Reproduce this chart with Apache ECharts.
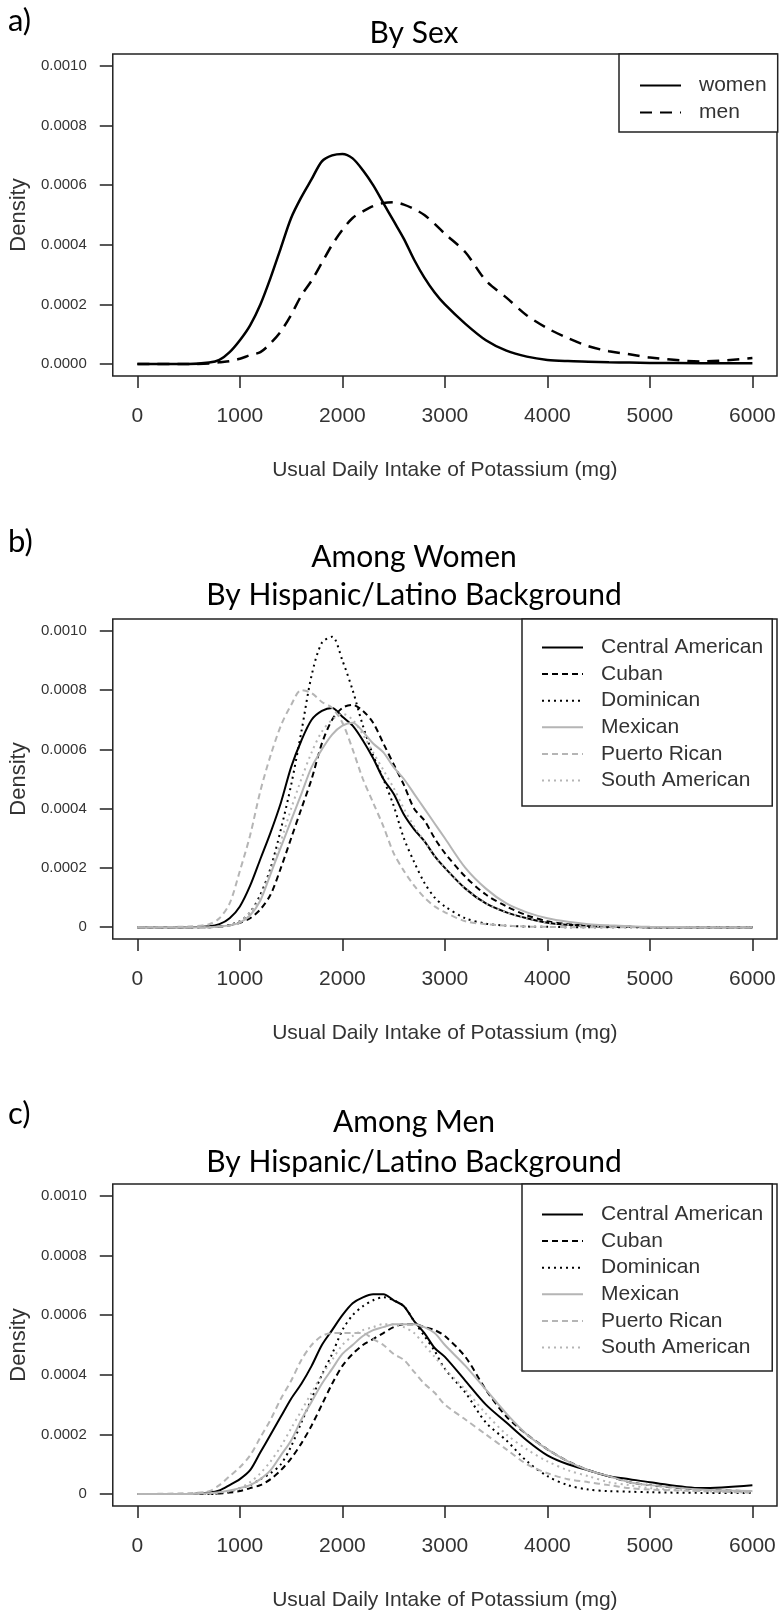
<!DOCTYPE html>
<html>
<head>
<meta charset="utf-8">
<script src="https://cdn.jsdelivr.net/npm/echarts@6/dist/echarts.min.js"></script>
<style>
html,body{margin:0;padding:0;background:#fff;}
#chart{width:780px;height:1614px;}
</style>
</head>
<body>
<div id="chart"></div>
<script>
// ---------- data ----------
const X_TICKS = [0, 1000, 2000, 3000, 4000, 5000, 6000];
const X_LABELS = ['0', '1000', '2000', '3000', '4000', '5000', '6000'];
const Y_TICKS = [0, 0.0002, 0.0004, 0.0006, 0.0008, 0.0010];
const Y_LABELS_A = ['0.0000', '0.0002', '0.0004', '0.0006', '0.0008', '0.0010'];
const Y_LABELS_BC = ['0', '0.0002', '0.0004', '0.0006', '0.0008', '0.0010'];

// intake grid (mg) shared by every curve
const INTAKE = [0, 500, 700, 800, 900, 1000, 1100, 1200, 1300, 1400, 1500, 1600, 1700, 1800, 1900, 2000,
  2100, 2200, 2300, 2400, 2500, 2600, 2700, 2800, 2900, 3000, 3200, 3400, 3600, 3800, 4000,
  4200, 4400, 4600, 4800, 5000, 5500, 6000];

// a) By sex
const WOMEN = [0, 0, 0.000005, 0.000014, 0.00004, 0.00008, 0.00013, 0.0002, 0.00029, 0.00039, 0.00049, 0.00056,
  0.00062, 0.00068, 0.0007, 0.000705, 0.00069, 0.00065, 0.0006, 0.00054, 0.00048, 0.00042, 0.00035, 0.00029,
  0.00024, 0.0002, 0.000135, 0.00008, 0.000045, 0.000025, 0.000014, 0.00001, 0.000008, 0.000006, 0.000005,
  0.000004, 0.000003, 0.000003];
const MEN = [0, 0, 0.000002, 0.000006, 0.00001, 0.000018, 0.00003, 0.00004, 0.00007, 0.00011, 0.000165, 0.00023,
  0.00028, 0.00034, 0.0004, 0.00045, 0.00049, 0.000512, 0.00053, 0.00054, 0.000543, 0.000535, 0.00052, 0.0005,
  0.00047, 0.000437, 0.000375, 0.00028, 0.000223, 0.000163, 0.00012, 0.000087, 0.00006, 0.000043, 0.000033,
  0.000022, 0.000009, 0.00002];

// b) Among women by background
const W_CENTRAL = [0, 0, 0.000003, 0.00001, 0.00003, 0.00007, 0.00014, 0.00023, 0.00032, 0.00042, 0.00054, 0.00063,
  0.0007, 0.00073, 0.00074, 0.00071, 0.00068, 0.00063, 0.00057, 0.0005, 0.00045, 0.00038, 0.00033, 0.00029,
  0.00024, 0.0002, 0.00013, 0.00008, 0.00005, 0.00003, 0.000015, 0.000008, 0.000004, 0.000002, 0.000001, 0, 0, 0];
const W_CUBAN = [0, 0, 0, 0.000002, 0.000006, 0.000015, 0.00003, 0.00006, 0.00011, 0.0002, 0.0003, 0.0004,
  0.0005, 0.00062, 0.0007, 0.00074, 0.00075, 0.00073, 0.00069, 0.00062, 0.00055, 0.00048, 0.0004, 0.00036,
  0.0003, 0.00025, 0.00017, 0.00011, 0.00007, 0.00004, 0.00002, 0.00001, 0.000005, 0.000002, 0.000001, 0, 0, 0];
const W_DOMINICAN = [0, 0, 0, 0.000002, 0.000008, 0.00002, 0.00005, 0.00011, 0.0002, 0.00033, 0.00048, 0.00066,
  0.00085, 0.00096, 0.00098, 0.0009, 0.0008, 0.00068, 0.00058, 0.0005, 0.00041, 0.0003, 0.00022, 0.00015,
  0.0001, 0.00007, 0.00003, 0.000012, 0.000005, 0.000002, 0.000001, 0, 0, 0, 0, 0, 0, 0];
const W_MEXICAN = [0, 0, 0, 0.000002, 0.000006, 0.000015, 0.00004, 0.00009, 0.00018, 0.00027, 0.00036, 0.00045,
  0.00054, 0.0006, 0.00065, 0.00068, 0.00069, 0.00066, 0.00062, 0.00059, 0.00054, 0.0005, 0.00045, 0.0004,
  0.00035, 0.0003, 0.0002, 0.00013, 0.00008, 0.00005, 0.00003, 0.000018, 0.00001, 0.000006, 0.000003,
  0.000001, 0, 0];
const W_PUERTO = [0, 0.000002, 0.00001, 0.00003, 0.00008, 0.00019, 0.00031, 0.00046, 0.00058, 0.00068, 0.00075,
  0.0008, 0.00079, 0.00076, 0.00074, 0.00069, 0.0006, 0.0005, 0.00042, 0.00034, 0.00025, 0.00019, 0.00014,
  0.0001, 0.00007, 0.00005, 0.00002, 0.00001, 0.000005, 0.000002, 0.000001, 0, 0, 0, 0, 0, 0, 0];
const W_SOUTH = [0, 0, 0, 0.000002, 0.000006, 0.00002, 0.00005, 0.0001, 0.00019, 0.00029, 0.0004, 0.0005,
  0.00059, 0.00066, 0.0007, 0.00072, 0.0007, 0.00065, 0.00059, 0.00053, 0.00047, 0.0004, 0.00034, 0.00029,
  0.00024, 0.0002, 0.00013, 0.00008, 0.00005, 0.00003, 0.000015, 0.000008, 0.000004, 0.000002, 0.000001, 0, 0, 0];

// c) Among men by background
const M_CENTRAL = [0, 0, 0.000005, 0.000012, 0.00003, 0.00005, 0.00008, 0.00014, 0.0002, 0.00026, 0.00032, 0.00037,
  0.00043, 0.0005, 0.00055, 0.0006, 0.00064, 0.00066, 0.00067, 0.00067, 0.00065, 0.00063, 0.00058, 0.00054,
  0.00049, 0.00046, 0.00038, 0.0003, 0.00024, 0.00018, 0.00013, 0.0001, 0.00008, 0.00006, 0.00005, 0.00004,
  0.00002, 0.00003];
const M_CUBAN = [0, 0, 0, 0.000002, 0.000005, 0.00001, 0.00002, 0.00003, 0.00005, 0.00008, 0.00012, 0.00017,
  0.00023, 0.0003, 0.00037, 0.00043, 0.00047, 0.0005, 0.00052, 0.00054, 0.00056, 0.00057, 0.00057, 0.00056,
  0.00055, 0.00053, 0.00046, 0.00035, 0.00026, 0.0002, 0.00015, 0.00011, 0.00008, 0.00006, 0.00004, 0.00003,
  0.000015, 0.00001];
const M_DOMINICAN = [0, 0, 0, 0.000003, 0.000008, 0.00002, 0.00003, 0.00005, 0.00007, 0.0001, 0.00016, 0.00024,
  0.00032, 0.0004, 0.00047, 0.00055, 0.0006, 0.00063, 0.00065, 0.00066, 0.00065, 0.00063, 0.00058, 0.00053,
  0.00048, 0.00042, 0.00034, 0.00024, 0.00018, 0.00011, 0.00006, 0.00003, 0.000015, 0.00001, 0.000008,
  0.000006, 0.000004, 0.000004];
const M_MEXICAN = [0, 0, 0.000003, 0.000006, 0.000012, 0.00002, 0.00003, 0.00005, 0.00008, 0.00013, 0.00018, 0.00025,
  0.00031, 0.00037, 0.00042, 0.00047, 0.0005, 0.00053, 0.00055, 0.00056, 0.00057, 0.00057, 0.00057, 0.00056,
  0.00054, 0.0005, 0.00043, 0.00035, 0.00027, 0.0002, 0.00015, 0.00011, 0.00008, 0.00006, 0.00004, 0.00003,
  0.000015, 0.00001];
const M_PUERTO = [0, 0.000003, 0.00001, 0.00003, 0.00006, 0.00009, 0.00013, 0.00019, 0.00025, 0.00032, 0.00038,
  0.00045, 0.0005, 0.00053, 0.00054, 0.00054, 0.00054, 0.00054, 0.00052, 0.0005, 0.00047, 0.00045, 0.00041,
  0.00037, 0.00034, 0.0003, 0.00025, 0.0002, 0.00015, 0.0001, 0.00007, 0.00005, 0.00004, 0.00003, 0.00002,
  0.000015, 0.00001, 0.000005];
const M_SOUTH = [0, 0, 0, 0.000005, 0.00001, 0.00002, 0.00004, 0.00007, 0.00011, 0.00016, 0.00022, 0.00028,
  0.00034, 0.0004, 0.00045, 0.0005, 0.00053, 0.00055, 0.00056, 0.00057, 0.00057, 0.00056, 0.00054, 0.0005,
  0.00046, 0.00042, 0.00035, 0.00027, 0.0002, 0.00015, 0.00011, 0.00008, 0.00006, 0.00004, 0.00003, 0.00002,
  0.00001, 0.000005];

const GROUPS = ['Central American', 'Cuban', 'Dominican', 'Mexican', 'Puerto Rican', 'South American'];
const WOMEN_GROUPS = [W_CENTRAL, W_CUBAN, W_DOMINICAN, W_MEXICAN, W_PUERTO, W_SOUTH];
const MEN_GROUPS = [M_CENTRAL, M_CUBAN, M_DOMINICAN, M_MEXICAN, M_PUERTO, M_SOUTH];

// ---------- styles ----------
const AXIS_FONT = "'Liberation Sans', Arial, Helvetica, sans-serif";
const TITLE_FONT = "Lato, 'Open Sans', sans-serif";
const GRAY = '#b5b5b5';
const GROUP_STYLE = [
  { color: '#000', type: 'solid' },
  { color: '#000', type: [6, 4] },
  { color: '#000', type: [2, 4] },
  { color: GRAY, type: 'solid' },
  { color: GRAY, type: [6, 4] },
  { color: GRAY, type: [2, 4] }
];

const GRIDS = [
  { left: 103, top: 54, width: 674, height: 322 },
  { left: 103, top: 619, width: 674, height: 320 },
  { left: 103, top: 1184, width: 674, height: 322 }
];

function pairs(ys) { return INTAKE.map((x, i) => [x, ys[i]]); }

function xAxisFor(i) {
  return {
    gridIndex: i, type: 'value', min: -240, max: 6240,
    axisLine: { show: false, onZero: false },
    splitLine: { show: false },
    axisTick: { show: true, inside: false, customValues: X_TICKS, length: 12, lineStyle: { color: '#222', width: 1.5 } },
    axisLabel: {
      customValues: X_TICKS, fontSize: 21, color: '#333', margin: 30, fontFamily: AXIS_FONT,
      formatter: v => { const k = X_TICKS.indexOf(Math.round(v)); return k >= 0 ? X_LABELS[k] : ''; }
    },
    name: 'Usual Daily Intake of Potassium (mg)', nameLocation: 'middle', nameGap: 84,
    nameTextStyle: { fontSize: 21, color: '#333', fontFamily: AXIS_FONT }
  };
}
function yAxisFor(i, labels) {
  return {
    gridIndex: i, type: 'value', min: -0.00004, max: 0.00104,
    axisLine: { show: false, onZero: false },
    splitLine: { show: false },
    axisTick: { show: true, inside: false, customValues: Y_TICKS, length: 13, lineStyle: { color: '#222', width: 1.5 } },
    axisLabel: {
      customValues: Y_TICKS, fontSize: 15, color: '#333', margin: 26, fontFamily: AXIS_FONT,
      formatter: v => { const k = Y_TICKS.findIndex(t => Math.abs(t - v) < 1e-9); return k >= 0 ? labels[k] : ''; }
    },
    name: 'Density', nameLocation: 'middle', nameRotate: 90, nameGap: 71,
    nameTextStyle: { fontSize: 22, color: '#333', fontFamily: AXIS_FONT }
  };
}

const series = [];
series.push({ name: 'women', type: 'line', xAxisIndex: 0, yAxisIndex: 0, data: pairs(WOMEN), symbol: 'none', smooth: 0.3,
  lineStyle: { color: '#000', width: 2.5, type: 'solid' }, itemStyle: { color: '#000' } });
series.push({ name: 'men', type: 'line', xAxisIndex: 0, yAxisIndex: 0, data: pairs(MEN), symbol: 'none', smooth: 0.3,
  lineStyle: { color: '#000', width: 2.5, type: [12, 8] }, itemStyle: { color: '#000' } });
[WOMEN_GROUPS, MEN_GROUPS].forEach((groupData, p) => {
  groupData.forEach((ys, g) => {
    series.push({
      name: GROUPS[g], type: 'line', xAxisIndex: p + 1, yAxisIndex: p + 1, data: pairs(ys), symbol: 'none', smooth: 0.3,
      lineStyle: { color: GROUP_STYLE[g].color, width: 2, type: GROUP_STYLE[g].type },
      itemStyle: { color: GROUP_STYLE[g].color }
    });
  });
});

const legendBase = {
  orient: 'vertical', itemWidth: 41, itemHeight: 14, selectedMode: false,
  borderColor: '#222', borderWidth: 1.5, backgroundColor: '#fff', borderRadius: 0,
  itemStyle: { color: 'transparent', borderColor: 'transparent', borderWidth: 0, opacity: 0 },
  textStyle: { fontSize: 21, color: '#333', fontFamily: AXIS_FONT, padding: [0, 0, 0, 13] }
};

const option = {
  animation: false,
  backgroundColor: '#fff',
  grid: GRIDS.map(g => Object.assign({ show: true, borderColor: '#222', borderWidth: 1.5, backgroundColor: 'transparent', containLabel: false }, g)),
  xAxis: [xAxisFor(0), xAxisFor(1), xAxisFor(2)],
  yAxis: [yAxisFor(0, Y_LABELS_A), yAxisFor(1, Y_LABELS_BC), yAxisFor(2, Y_LABELS_BC)],
  legend: [
    Object.assign({}, legendBase, { data: ['women', 'men'], left: 619, top: 54, itemGap: 6, padding: [21, 11, 9, 20] }),
    Object.assign({}, legendBase, { data: GROUPS, left: 522, top: 619, itemGap: 5.6, padding: [18, 9, 15, 19] }),
    Object.assign({}, legendBase, { data: GROUPS, left: 522, top: 1184, itemGap: 5.6, padding: [20, 9, 13, 19] })
  ],
  graphic: [
    { type: 'text', x: 8, y: 21, style: { text: 'a)', font: '31px ' + TITLE_FONT, fill: '#000', textVerticalAlign: 'middle' } },
    { type: 'text', x: 414, y: 33, style: { text: 'By Sex', font: '30px ' + TITLE_FONT, fill: '#000', textAlign: 'center', textVerticalAlign: 'middle' } },
    { type: 'text', x: 8, y: 542, style: { text: 'b)', font: '31px ' + TITLE_FONT, fill: '#000', textVerticalAlign: 'middle' } },
    { type: 'text', x: 414, y: 557, style: { text: 'Among Women', font: '30px ' + TITLE_FONT, fill: '#000', textAlign: 'center', textVerticalAlign: 'middle' } },
    { type: 'text', x: 414, y: 595, style: { text: 'By Hispanic/Latino Background', font: '30px ' + TITLE_FONT, fill: '#000', textAlign: 'center', textVerticalAlign: 'middle' } },
    { type: 'text', x: 8, y: 1114, style: { text: 'c)', font: '31px ' + TITLE_FONT, fill: '#000', textVerticalAlign: 'middle' } },
    { type: 'text', x: 414, y: 1122, style: { text: 'Among Men', font: '30px ' + TITLE_FONT, fill: '#000', textAlign: 'center', textVerticalAlign: 'middle' } },
    { type: 'text', x: 414, y: 1162, style: { text: 'By Hispanic/Latino Background', font: '30px ' + TITLE_FONT, fill: '#000', textAlign: 'center', textVerticalAlign: 'middle' } }
  ],
  series: series
};

const chart = echarts.init(document.getElementById('chart'), null, { renderer: 'canvas' });
chart.setOption(option);
</script>
</body>
</html>
